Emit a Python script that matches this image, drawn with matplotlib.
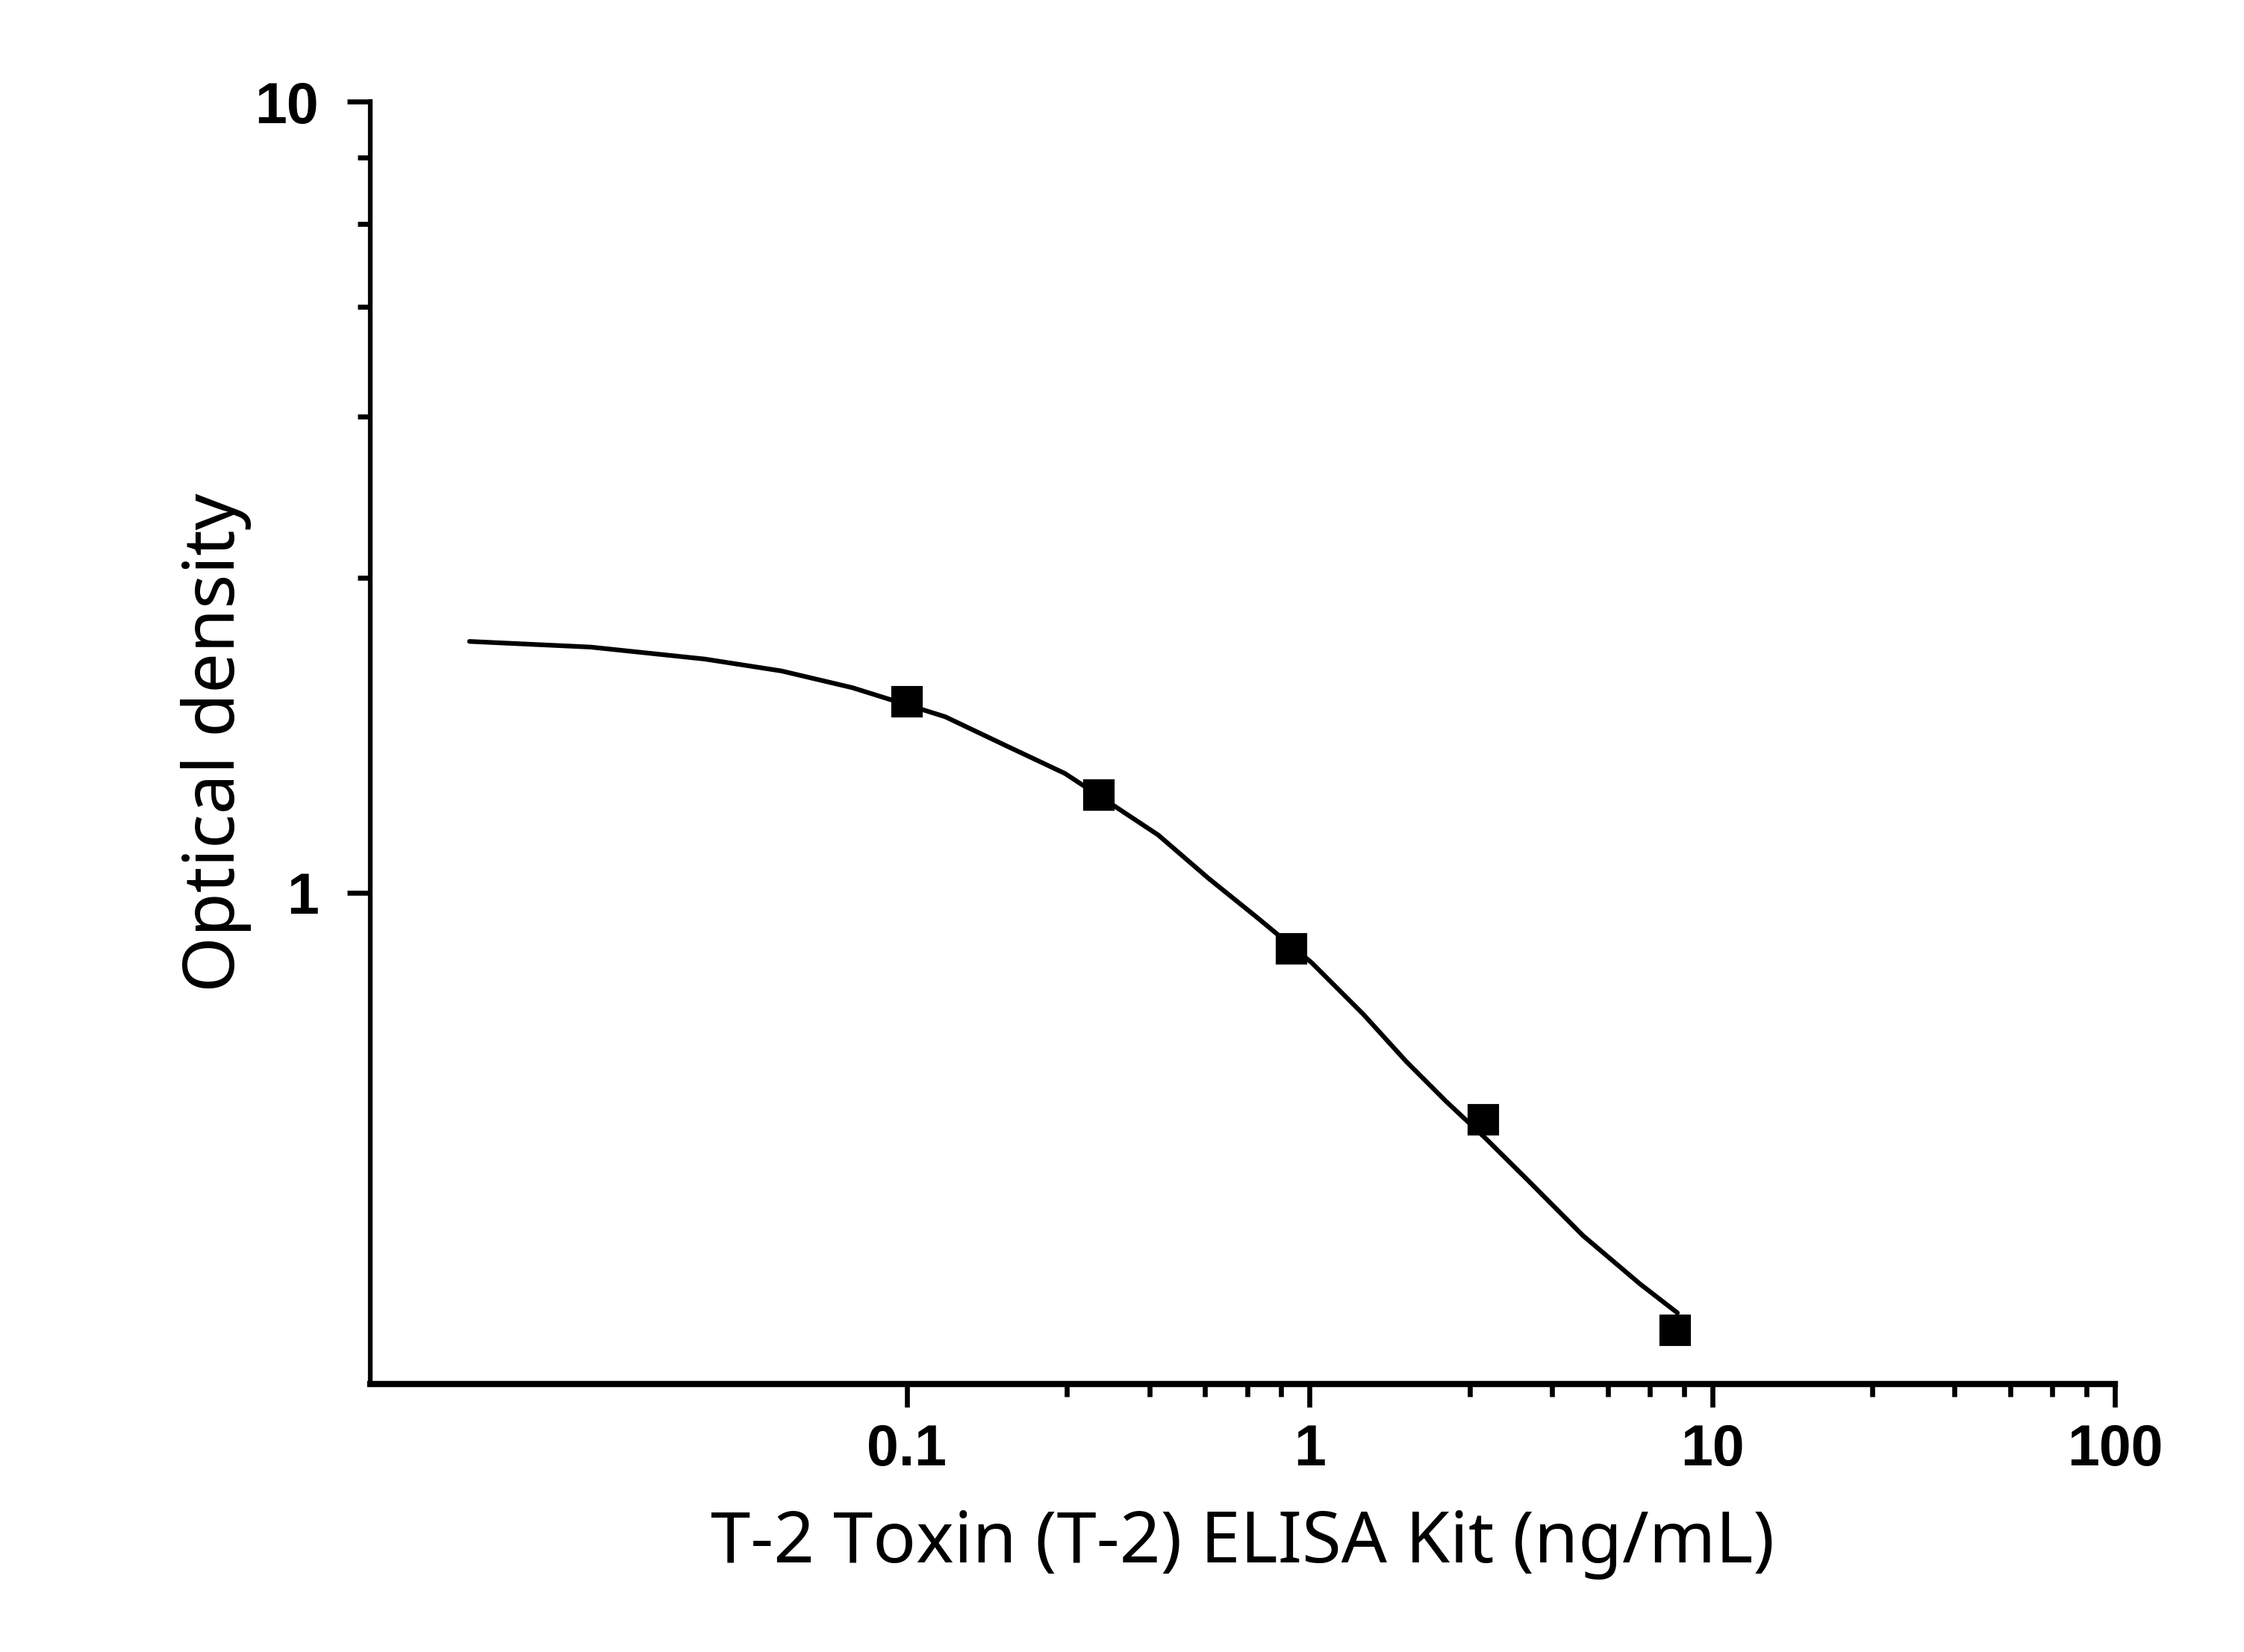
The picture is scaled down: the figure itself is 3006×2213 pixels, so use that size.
import matplotlib.pyplot as plt
from matplotlib.ticker import FixedLocator, NullFormatter, FixedFormatter

# measured standards (ng/mL, OD)
conc = [0.1, 0.3, 0.9, 2.7, 8.1]
od = [1.745, 1.328, 0.850, 0.517, 0.280]

# fitted curve
fit_x = [0.0082, 0.0164, 0.0315, 0.0488, 0.0733, 0.1245, 0.1788, 0.247, 0.3,
         0.421, 0.561, 0.746, 1.013, 1.360, 1.738, 2.183, 2.744, 3.450, 4.780,
         6.630, 8.196]
fit_y = [2.078, 2.044, 1.974, 1.907, 1.816, 1.669, 1.529, 1.415, 1.326,
         1.183, 1.043, 0.928, 0.8156, 0.7022, 0.6121, 0.5450, 0.4887, 0.4354, 0.3686,
         0.3201, 0.2945]

x_major = [0.1, 1, 10, 100]
x_labels = ["0.1", "1", "10", "100"]
y_major = [1, 10]
y_labels = ["1", "10"]
steps = [2.5, 4, 5.5, 7, 8.5]

fig = plt.figure(figsize=(3006 / 300, 2213 / 300), dpi=300)
ax = fig.add_axes([496 / 3006, 1 - 1854 / 2213, (2833 - 496) / 3006, (1854 - 136) / 2213])

ax.plot(fit_x, fit_y, color="black", lw=1.5, solid_capstyle="round", solid_joinstyle="round")
ax.plot(conc, od, "s", color="black", ms=9)

ax.set_xscale("log")
ax.set_yscale("log")
ax.set_xlim(0.00465, 100)
ax.set_ylim(0.2394, 10)

ax.xaxis.set_major_locator(FixedLocator(x_major))
ax.xaxis.set_major_formatter(FixedFormatter(x_labels))
ax.xaxis.set_minor_locator(FixedLocator([d * s for d in [0.1, 1, 10] for s in steps]))
ax.xaxis.set_minor_formatter(NullFormatter())
ax.yaxis.set_major_locator(FixedLocator(y_major))
ax.yaxis.set_major_formatter(FixedFormatter(y_labels))
ax.yaxis.set_minor_locator(FixedLocator(steps))
ax.yaxis.set_minor_formatter(NullFormatter())

for s in ["top", "right"]:
    ax.spines[s].set_visible(False)
ax.spines["bottom"].set_linewidth(2.0)
ax.spines["left"].set_linewidth(1.5)

ax.tick_params(which="major", length=7.5, width=1.6, direction="out")
ax.tick_params(which="minor", length=4, width=1.6, direction="out")
ax.tick_params(axis="x", which="major", pad=5)
ax.tick_params(axis="y", which="major", pad=9)
for lab in ax.get_xticklabels() + ax.get_yticklabels():
    lab.set_fontfamily("Liberation Sans")
    lab.set_fontweight("bold")
    lab.set_fontsize(18.5)

ax.set_xlabel("T-2 Toxin (T-2) ELISA Kit (ng/mL)", fontsize=23, family="Noto Sans", labelpad=10)
ax.set_ylabel("Optical density", fontsize=23, family="Noto Sans", labelpad=1)

fig.savefig("out.png", dpi=300)
